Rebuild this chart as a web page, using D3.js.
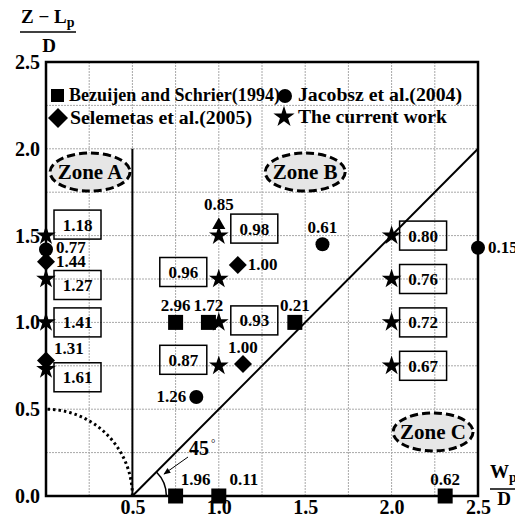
<!DOCTYPE html>
<html><head><meta charset="utf-8">
<script src="https://cdn.jsdelivr.net/npm/d3@7"></script>
<style>
body{margin:0;background:#fff;}
svg{display:block;font-family:"Liberation Serif","Times New Roman",serif;font-weight:bold;}
</style></head>
<body><svg id="c" width="515" height="518"></svg>
<script>
// ---------- data ----------
const xTicks = [0.5, 1.0, 1.5, 2.0, 2.5];
const yTicks = [0.0, 0.5, 1.0, 1.5, 2.0, 2.5];

// The current work (stars) with boxed values
const starX = [0, 0, 0, 0, 1.0, 1.0, 1.0, 1.0, 2.0, 2.0, 2.0, 2.0];
const starY = [1.5, 1.25, 1.0, 0.73, 1.5, 1.25, 1.0, 0.75, 1.5, 1.25, 1.0, 0.75];
const starLabels = ["1.18","1.27","1.41","1.61","0.98","0.96","0.93","0.87","0.80","0.76","0.72","0.67"];
const starSide = ["right","right","right","right","right","left","right","left","right","right","right","right"];
const starShift = [-11, 6, 0, 8, -7, -7, -2, -6, 0, 0, 0, 0]; // vertical nudge of boxes (layout)

// Bezuijen and Schrier (1994) (squares)
const sqX = [0.75, 0.94, 1.44, 0.75, 1.0, 2.31];
const sqY = [1.0, 1.0, 1.0, 0, 0, 0];
const sqLabels = ["2.96","1.72","0.21","1.96","0.11","0.62"];
const sqPos = ["above","above","above","aboveRight","aboveRight2","above"];

// Jacobsz et al. (2004) (circles)
const ciX = [0, 1.6, 2.5, 0.87];
const ciY = [1.42, 1.45, 1.43, 0.57];
const ciLabels = ["0.77","0.61","0.15","1.26"];
const ciPos = ["rightUp","above","right","left"];

// Selemetas et al. (2005) (diamonds)
const diX = [0, 0, 1.11, 1.14];
const diY = [1.35, 0.78, 1.33, 0.76];
const diLabels = ["1.44","1.31","1.00","1.00"];
const diPos = ["right","aboveRightHigh","right","above"];

// extra triangle marker
const trX = [1.0];
const trY = [1.56];
const trLabels = ["0.85"];
const trPos = ["aboveHigh"];

const zoneNames = ["Zone A","Zone B","Zone C"];
const zoneX = [0.255, 1.50, 2.24];
const zoneY = [1.866, 1.866, 0.369];

const legendNames = ["Bezuijen and Schrier(1994)","Jacobsz et al.(2004)","Selemetas et al.(2005)","The current work"];

// ---------- chart ----------
const svg = d3.select("#c");
const x = d3.scaleLinear().domain([0,2.5]).range([46,478]);
const y = d3.scaleLinear().domain([0,2.5]).range([496,62]);

// grid
const gridV = d3.range(0.25, 2.5, 0.25);
svg.append("g").selectAll("line").data(gridV).join("line")
  .attr("x1", d=>x(d)).attr("x2", d=>x(d)).attr("y1", y(0)).attr("y2", y(2.5))
  .attr("stroke","#a8a8a8").attr("stroke-width",1).attr("stroke-dasharray","2,1");
svg.append("g").selectAll("line").data(gridV).join("line")
  .attr("y1", d=>y(d)).attr("y2", d=>y(d)).attr("x1", x(0)).attr("x2", x(2.5))
  .attr("stroke","#a8a8a8").attr("stroke-width",1).attr("stroke-dasharray","2,1");

// axes (labels only)
const ax = svg.append("g").attr("transform",`translate(0,${y(0)})`)
  .call(d3.axisBottom(x).tickValues(xTicks).tickSize(0).tickPadding(4).tickFormat(d3.format(".1f")));
const ay = svg.append("g").attr("transform",`translate(${x(0)},0)`)
  .call(d3.axisLeft(y).tickValues(yTicks).tickSize(0).tickPadding(6).tickFormat(d3.format(".1f")));
[ax, ay].forEach(g=>{
  g.select(".domain").remove();
  g.selectAll("text").attr("font-size",20).attr("font-weight","bold")
   .attr("font-family",'"Liberation Serif",serif').attr("fill","#000");
});

// frame
svg.append("rect").attr("x",x(0)).attr("y",y(2.5)).attr("width",x(2.5)-x(0)).attr("height",y(0)-y(2.5))
  .attr("fill","none").attr("stroke","#000").attr("stroke-width",2.5);

// vertical line x=0.5
svg.append("line").attr("x1",x(0.5)).attr("x2",x(0.5)).attr("y1",y(0)).attr("y2",y(2.0))
  .attr("stroke","#000").attr("stroke-width",2);
// 45° line y = x - 0.5
svg.append("line").attr("x1",x(0.5)).attr("y1",y(0)).attr("x2",x(2.5)).attr("y2",y(2.0))
  .attr("stroke","#000").attr("stroke-width",2);

// dotted quarter circle radius 0.5
const ang = d3.range(0, 91, 2).map(a=>a*Math.PI/180);
svg.append("path").datum(ang)
  .attr("d", d3.line().x(a=>x(0.5*Math.cos(a))).y(a=>y(0.5*Math.sin(a))))
  .attr("fill","none").attr("stroke","#000").attr("stroke-width",3).attr("stroke-dasharray","2.5,3");

// 45° arc + arrow + label
const cx0 = x(0.5), cy0 = y(0), r45 = 34;
svg.append("path")
  .attr("d",`M${cx0+r45},${cy0} A${r45},${r45} 0 0 0 ${cx0+r45*Math.SQRT1_2},${cy0-r45*Math.SQRT1_2}`)
  .attr("fill","none").attr("stroke","#000").attr("stroke-width",1.5);
const defs = svg.append("defs");
defs.append("marker").attr("id","ah").attr("viewBox","0 0 10 10").attr("refX",9).attr("refY",5)
  .attr("markerWidth",7).attr("markerHeight",7).attr("orient","auto")
  .append("path").attr("d","M0,1 L10,5 L0,9 z").attr("fill","#000");
svg.append("line").attr("x1",188).attr("y1",457).attr("x2",164).attr("y2",474)
  .attr("stroke","#000").attr("stroke-width",1).attr("marker-end","url(#ah)");
const t45 = svg.append("text").attr("x",189).attr("y",455).attr("font-size",20);
t45.append("tspan").text("45");
t45.append("tspan").attr("font-size",11).attr("font-weight","normal").attr("dy",-8).attr("dx",2).text("°");

// zones
const zones = svg.append("g");
zoneNames.forEach((n,i)=>{
  zones.append("ellipse").attr("cx",x(zoneX[i])).attr("cy",y(zoneY[i])).attr("rx",40).attr("ry",19)
    .attr("fill","#e6e6e6").attr("stroke","#000").attr("stroke-width",3).attr("stroke-dasharray","8,4");
  zones.append("text").attr("x",x(zoneX[i])).attr("y",y(zoneY[i])).attr("dy","0.35em")
    .attr("text-anchor","middle").attr("font-size",21).text(n);
});

// symbol helpers
const starPath = d3.symbol().type(d3.symbolStar).size(120);
const triPath = d3.symbol().type(d3.symbolTriangle).size(75);
function diamond(cx, cy, h){ return `M${cx},${cy-h} L${cx+h},${cy} L${cx},${cy+h} L${cx-h},${cy} Z`; }

function placeLabel(g, px, py, txt, pos){
  let dx=0, dy=0, anchor="middle";
  switch(pos){
    case "above": dy=-11; break;
    case "aboveHigh": dy=-15; break;
    case "aboveRight": dx=20; dy=-11; break;
    case "aboveRight2": dx=25; dy=-11; break;
    case "aboveRightHigh": dx=8; dy=-7; anchor="start"; break;
    case "right": dx=10; dy=5; anchor="start"; break;
    case "rightUp": dx=10; dy=4; anchor="start"; break;
    case "left": dx=-10; dy=5; anchor="end"; break;
  }
  g.append("text").attr("x",px+dx).attr("y",py+dy).attr("text-anchor",anchor)
    .attr("font-size",17).text(txt);
}

const marks = svg.append("g");
const labels = svg.append("g");

// squares
sqX.forEach((v,i)=>{
  const px=x(v), py=y(sqY[i]);
  marks.append("rect").attr("x",px-7.5).attr("y",py-7.5).attr("width",15).attr("height",15).attr("fill","#000");
  placeLabel(labels, px, py, sqLabels[i], sqPos[i]);
});
// circles
ciX.forEach((v,i)=>{
  const px=x(v), py=y(ciY[i]);
  marks.append("circle").attr("cx",px).attr("cy",py).attr("r",7).attr("fill","#000");
  placeLabel(labels, px, py, ciLabels[i], ciPos[i]);
});
// diamonds
diX.forEach((v,i)=>{
  const px=x(v), py=y(diY[i]);
  marks.append("path").attr("d",diamond(px,py,9)).attr("fill","#000");
  placeLabel(labels, px, py, diLabels[i], diPos[i]);
});
// triangle
trX.forEach((v,i)=>{
  const px=x(v), py=y(trY[i]);
  marks.append("path").attr("transform",`translate(${px},${py})`).attr("d",triPath()).attr("fill","#000");
  placeLabel(labels, px, py, trLabels[i], trPos[i]);
});
// stars with boxes
starX.forEach((v,i)=>{
  const px=x(v), py=y(starY[i]);
  marks.append("path").attr("transform",`translate(${px},${py})`).attr("d",starPath()).attr("fill","#000");
  const bw=47, bh=29;
  const gap = v===1.0 ? 12 : 8;
  const bx = starSide[i]==="right" ? px+gap : px-gap-bw;
  const by = py + starShift[i] - bh/2;
  labels.append("rect").attr("x",bx).attr("y",by).attr("width",bw).attr("height",bh)
    .attr("fill","none").attr("stroke","#000").attr("stroke-width",1.5);
  labels.append("text").attr("x",bx+bw/2).attr("y",by+bh/2).attr("dy","0.35em")
    .attr("text-anchor","middle").attr("font-size",17).text(starLabels[i]);
});

// legend
const lg = svg.append("g").attr("font-size",18);
lg.append("rect").attr("x",51).attr("y",89).attr("width",13).attr("height",13).attr("fill","#000");
lg.append("text").attr("x",69).attr("y",101).attr("textLength",211).attr("lengthAdjust","spacing").text(legendNames[0]);
lg.append("circle").attr("cx",285).attr("cy",96).attr("r",7).attr("fill","#000");
lg.append("text").attr("x",298).attr("y",101).attr("textLength",164).attr("lengthAdjust","spacingAndGlyphs").text(legendNames[1]);
lg.append("path").attr("d",diamond(58,118,10)).attr("fill","#000");
lg.append("text").attr("x",70).attr("y",124).attr("textLength",182).attr("lengthAdjust","spacingAndGlyphs").text(legendNames[2]);
lg.append("path").attr("transform","translate(284,117)").attr("d",d3.symbol().type(d3.symbolStar).size(140)()).attr("fill","#000");
lg.append("text").attr("x",298).attr("y",123).attr("textLength",149).attr("lengthAdjust","spacingAndGlyphs").text(legendNames[3]);

// axis titles
const yt = svg.append("g");
const ytt = yt.append("text").attr("x",21).attr("y",23).attr("font-size",19);
ytt.append("tspan").text("Z − L");
ytt.append("tspan").attr("font-size",14).attr("dy",4).text("p");
yt.append("line").attr("x1",20).attr("x2",76).attr("y1",32).attr("y2",32).attr("stroke","#000").attr("stroke-width",1.5);
yt.append("text").attr("x",49).attr("y",52).attr("text-anchor","middle").attr("font-size",19).text("D");

const xt = svg.append("g");
const xtt = xt.append("text").attr("x",490).attr("y",478).attr("font-size",19);
xtt.append("tspan").text("W");
xtt.append("tspan").attr("font-size",14).attr("dy",4).text("p");
xt.append("line").attr("x1",490).attr("x2",515).attr("y1",489).attr("y2",489).attr("stroke","#000").attr("stroke-width",1.5);
xt.append("text").attr("x",504).attr("y",505).attr("text-anchor","middle").attr("font-size",19).text("D");
</script></body></html>
